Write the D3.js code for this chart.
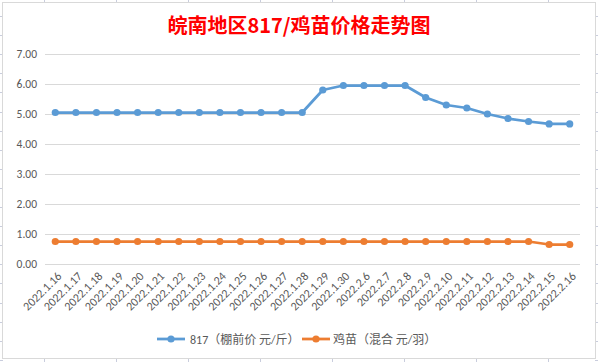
<!DOCTYPE html>
<html>
<head>
<meta charset="utf-8">
<script src="https://cdn.jsdelivr.net/npm/d3@7"></script>
<style>
  body { margin: 0; background: #fff; }
  svg { display: block; }
</style>
</head>
<body>
<div id="chart"></div>
<script>
const dates = ["2022.1.16", "2022.1.17", "2022.1.18", "2022.1.19", "2022.1.20", "2022.1.21",
    "2022.1.22", "2022.1.23", "2022.1.24", "2022.1.25", "2022.1.26", "2022.1.27", "2022.1.28",
    "2022.1.29", "2022.1.30", "2022.2.6", "2022.2.7", "2022.2.8", "2022.2.9", "2022.2.10",
    "2022.2.11", "2022.2.12", "2022.2.13", "2022.2.14", "2022.2.15", "2022.2.16"];
const price817 = [5.05, 5.05, 5.05, 5.05, 5.05, 5.05, 5.05, 5.05, 5.05, 5.05, 5.05, 5.05, 5.05,
    5.8, 5.95, 5.95, 5.95, 5.95, 5.55, 5.3, 5.2, 5.0, 4.85, 4.75, 4.67, 4.67];
const priceChick = [0.75, 0.75, 0.75, 0.75, 0.75, 0.75, 0.75, 0.75, 0.75, 0.75, 0.75, 0.75, 0.75,
    0.75, 0.75, 0.75, 0.75, 0.75, 0.75, 0.75, 0.75, 0.75, 0.75, 0.75, 0.65, 0.65];
const yTicks = [0, 1, 2, 3, 4, 5, 6, 7];
const seriesNames = ["817（棚前价 元/斤）", "鸡苗（混合 元/羽）"];

const width = 598;
const height = 362;
const margin = { top: 54, right: 18, bottom: 98, left: 45 };
const fontFamily = "Carlito, 'Liberation Sans', 'Noto Sans CJK SC', sans-serif";
const textColor = "#595959";
const colors = ["#5b9bd5", "#ed7d31"];

const svg = d3.select("#chart").append("svg")
    .attr("width", width)
    .attr("height", height)
    .style("font-family", fontFamily);

// spreadsheet cell lines peeking out around the chart
const sheet = svg.append("g").attr("stroke", "#c9cddd").attr("stroke-width", 1);
d3.range(16, height, 19.1).forEach(y => {
    sheet.append("line").attr("x1", 0).attr("x2", 3).attr("y1", Math.round(y) + 0.5).attr("y2", Math.round(y) + 0.5);
    sheet.append("line").attr("x1", 595).attr("x2", width).attr("y1", Math.round(y) + 0.5).attr("y2", Math.round(y) + 0.5);
});
d3.range(44, width, 72).forEach(x => {
    sheet.append("line").attr("x1", x + 0.5).attr("x2", x + 0.5).attr("y1", 0).attr("y2", 3);
    sheet.append("line").attr("x1", x + 0.5).attr("x2", x + 0.5).attr("y1", 359).attr("y2", height);
});

svg.append("rect")
    .attr("x", 2.5)
    .attr("y", 2.5)
    .attr("width", 593)
    .attr("height", 356)
    .attr("fill", "#fff")
    .attr("stroke", "#d9d9d9");

const x = d3.scaleBand()
    .domain(dates)
    .range([margin.left, width - margin.right]);

const y = d3.scaleLinear()
    .domain([0, 7])
    .range([height - margin.bottom, margin.top]);

const cx = d => x(d) + x.bandwidth() / 2;

svg.append("text")
    .attr("x", 299)
    .attr("y", 33)
    .attr("text-anchor", "middle")
    .attr("fill", "#ff0000")
    .style("font-size", "20px")
    .style("font-weight", "bold")
    .style("font-family", "'Noto Sans CJK SC', sans-serif")
    .text("皖南地区817/鸡苗价格走势图");

// gridlines
svg.append("g")
    .selectAll("line")
    .data(yTicks)
    .enter()
    .append("line")
    .attr("x1", x.range()[0])
    .attr("x2", x.range()[1])
    .attr("y1", d => Math.round(y(d)) + 0.5)
    .attr("y2", d => Math.round(y(d)) + 0.5)
    .attr("stroke", "#d9d9d9");

svg.append("g")
    .attr("transform", `translate(${margin.left},0)`)
    .call(d3.axisLeft(y).tickValues(yTicks).tickSize(0).tickPadding(8).tickFormat(d3.format(".2f")))
    .call(g => g.select(".domain").remove())
    .selectAll("text")
    .attr("fill", textColor)
    .style("font-size", "11.5px")
    .style("font-family", fontFamily);

svg.append("g")
    .attr("transform", `translate(0,${y(0)})`)
    .call(d3.axisBottom(x).tickSize(0).tickPadding(0))
    .call(g => g.select(".domain").remove())
    .selectAll("text")
    .attr("fill", textColor)
    .style("font-size", "12px")
    .style("font-family", fontFamily)
    .attr("text-anchor", "end")
    .attr("dy", "0.35em")
    .attr("transform", "translate(4,10) rotate(-45)");

const series = [price817, priceChick];

series.forEach((vals, i) => {
    const line = d3.line()
        .x((d, j) => cx(dates[j]))
        .y(d => y(d));

    svg.append("path")
        .datum(vals)
        .attr("fill", "none")
        .attr("stroke", colors[i])
        .attr("stroke-width", 2.75)
        .attr("stroke-linejoin", "round")
        .attr("d", line);

    svg.append("g")
        .selectAll("circle")
        .data(vals)
        .enter()
        .append("circle")
        .attr("cx", (d, j) => cx(dates[j]))
        .attr("cy", d => y(d))
        .attr("r", 3.6)
        .attr("fill", colors[i]);
});

// legend
const legendItems = [{ x: 157, tx: 190 }, { x: 302, tx: 333 }];
legendItems.forEach((l, i) => {
    const g = svg.append("g");
    g.append("line")
        .attr("x1", l.x).attr("x2", l.x + 28)
        .attr("y1", 339).attr("y2", 339)
        .attr("stroke", colors[i])
        .attr("stroke-width", 2.75);
    g.append("circle")
        .attr("cx", l.x + 14).attr("cy", 339).attr("r", 3.6)
        .attr("fill", colors[i]);
    g.append("text")
        .attr("x", l.tx).attr("y", 343.5)
        .attr("fill", textColor)
        .style("font-size", "12px")
        .text(seriesNames[i]);
});
</script>
</body>
</html>
